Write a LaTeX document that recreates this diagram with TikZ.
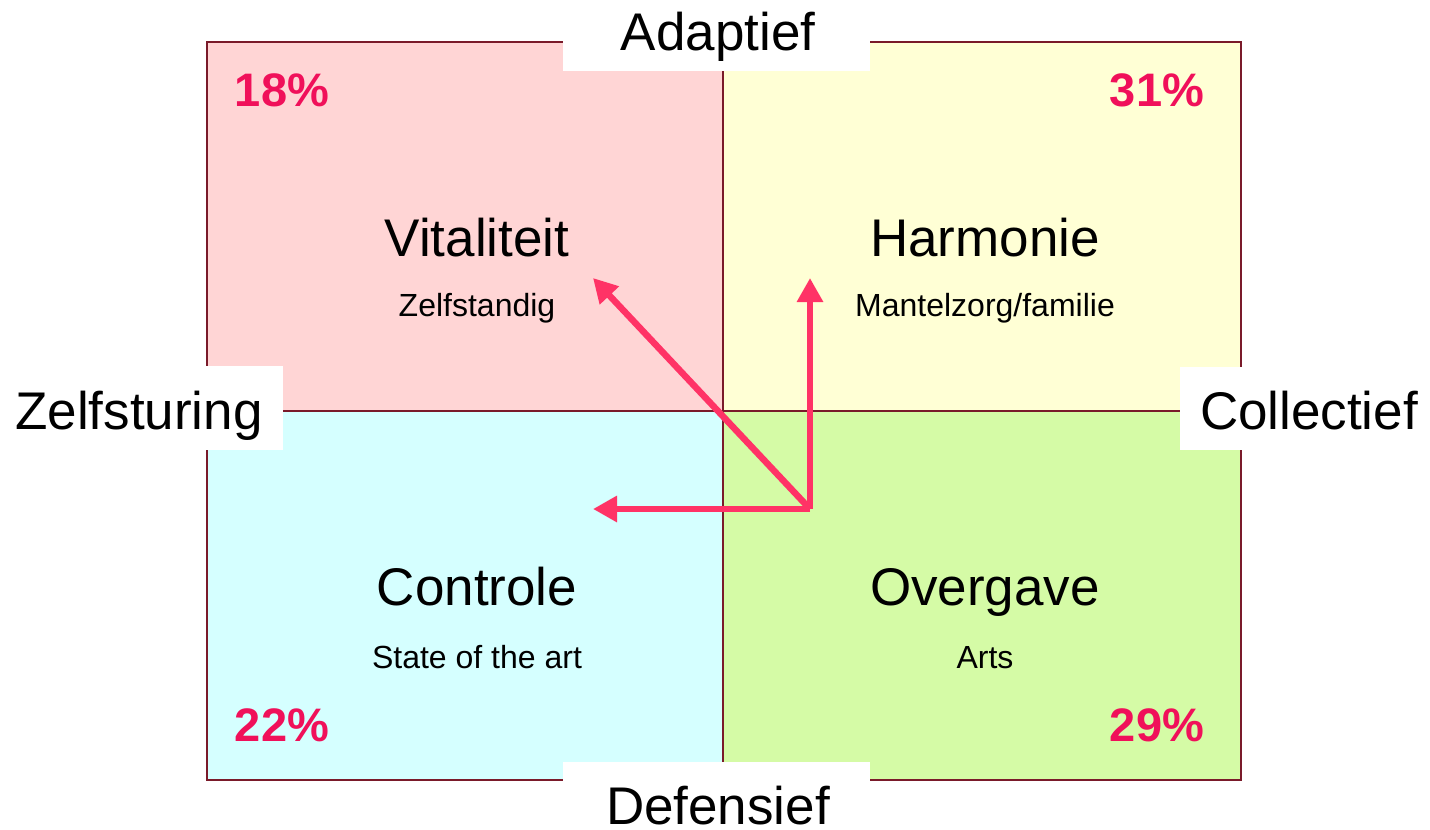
\documentclass[tikz,border=0pt]{standalone}
\usepackage{fontspec}
\setmainfont{Liberation Sans}
\usetikzlibrary{arrows.meta}
\definecolor{qpink}{HTML}{FFD5D5}
\definecolor{qyellow}{HTML}{FFFFD5}
\definecolor{qcyan}{HTML}{D5FFFF}
\definecolor{qgreen}{HTML}{D5FBA6}
\definecolor{qborder}{HTML}{7A1A2A}
\definecolor{pct}{HTML}{F0105A}
\definecolor{arr}{HTML}{FF3366}
\tikzset{
  quad/.style={draw=qborder, line width=1.8pt},
  whitebox/.style={fill=white, draw=none},
  axislabel/.style={anchor=base, inner sep=0pt, font=\fontsize{53}{60}\selectfont},
  title/.style={anchor=base, inner sep=0pt, font=\fontsize{53}{60}\selectfont},
  sub/.style={anchor=base, inner sep=0pt, font=\fontsize{32}{36}\selectfont},
  percent/.style={anchor=base, inner sep=0pt, text=pct, font=\fontsize{47}{52}\selectfont\bfseries},
  arrowline/.style={draw=arr, line width=6.5pt, -{Triangle[length=24pt,width=25pt]}}
}
\begin{document}
\begin{tikzpicture}[x=1pt,y=-1pt]
\useasboundingbox (0,0) rectangle (1430,830);
% quadrants
\fill[qpink] (207,42) rectangle (723,411);
\fill[qyellow] (723,42) rectangle (1241,411);
\fill[qcyan] (207,411) rectangle (723,780);
\fill[qgreen] (723,411) rectangle (1241,780);
\draw[quad] (207,42) rectangle (1241,780);
\draw[quad] (723,42) -- (723,780);
\draw[quad] (207,411) -- (1241,411);
% white label boxes
\fill[whitebox] (563,0) rectangle (870,71);
\fill[whitebox] (563,762) rectangle (870,830);
\fill[whitebox] (0,366) rectangle (283,450);
\fill[whitebox] (1180,367) rectangle (1430,450);
% axis labels
\node[axislabel] (adaptief) at (718,50) {Adaptief};
\node[axislabel] (defensief) at (718,824) {Defensief};
\node[axislabel] (zelfsturing) at (139,429) {Zelfsturing};
\node[axislabel] (collectief) at (1309,429) {Collectief};
% titles
\node[title] (vitaliteit) at (477,256) {Vitaliteit};
\node[sub] (zelfstandig) at (477,316) {Zelfstandig};
\node[title] (harmonie) at (985,256) {Harmonie};
\node[sub] (mantelzorg) at (985,316) {Mantelzorg/familie};
\node[title] (controle) at (477,605) {Controle};
\node[sub] (stateart) at (477,668) {State of the art};
\node[title] (overgave) at (985,605) {Overgave};
\node[sub] (arts) at (985,668) {Arts};
% percentages
\node[percent] (p18) at (282,106) {18\%};
\node[percent] (p31) at (1157,106) {31\%};
\node[percent] (p22) at (282,741) {22\%};
\node[percent] (p29) at (1157,741) {29\%};
% arrows
\coordinate (o) at (810,509);
\coordinate (tipup) at (810,278);
\coordinate (tipleft) at (593,509);
\coordinate (tipdiag) at (593,278);
\draw[arrowline] (o) -- (tipdiag);
\draw[arrowline] (o) -- (tipleft);
\draw[arrowline] (o) -- (tipup);
\end{tikzpicture}
\end{document}
